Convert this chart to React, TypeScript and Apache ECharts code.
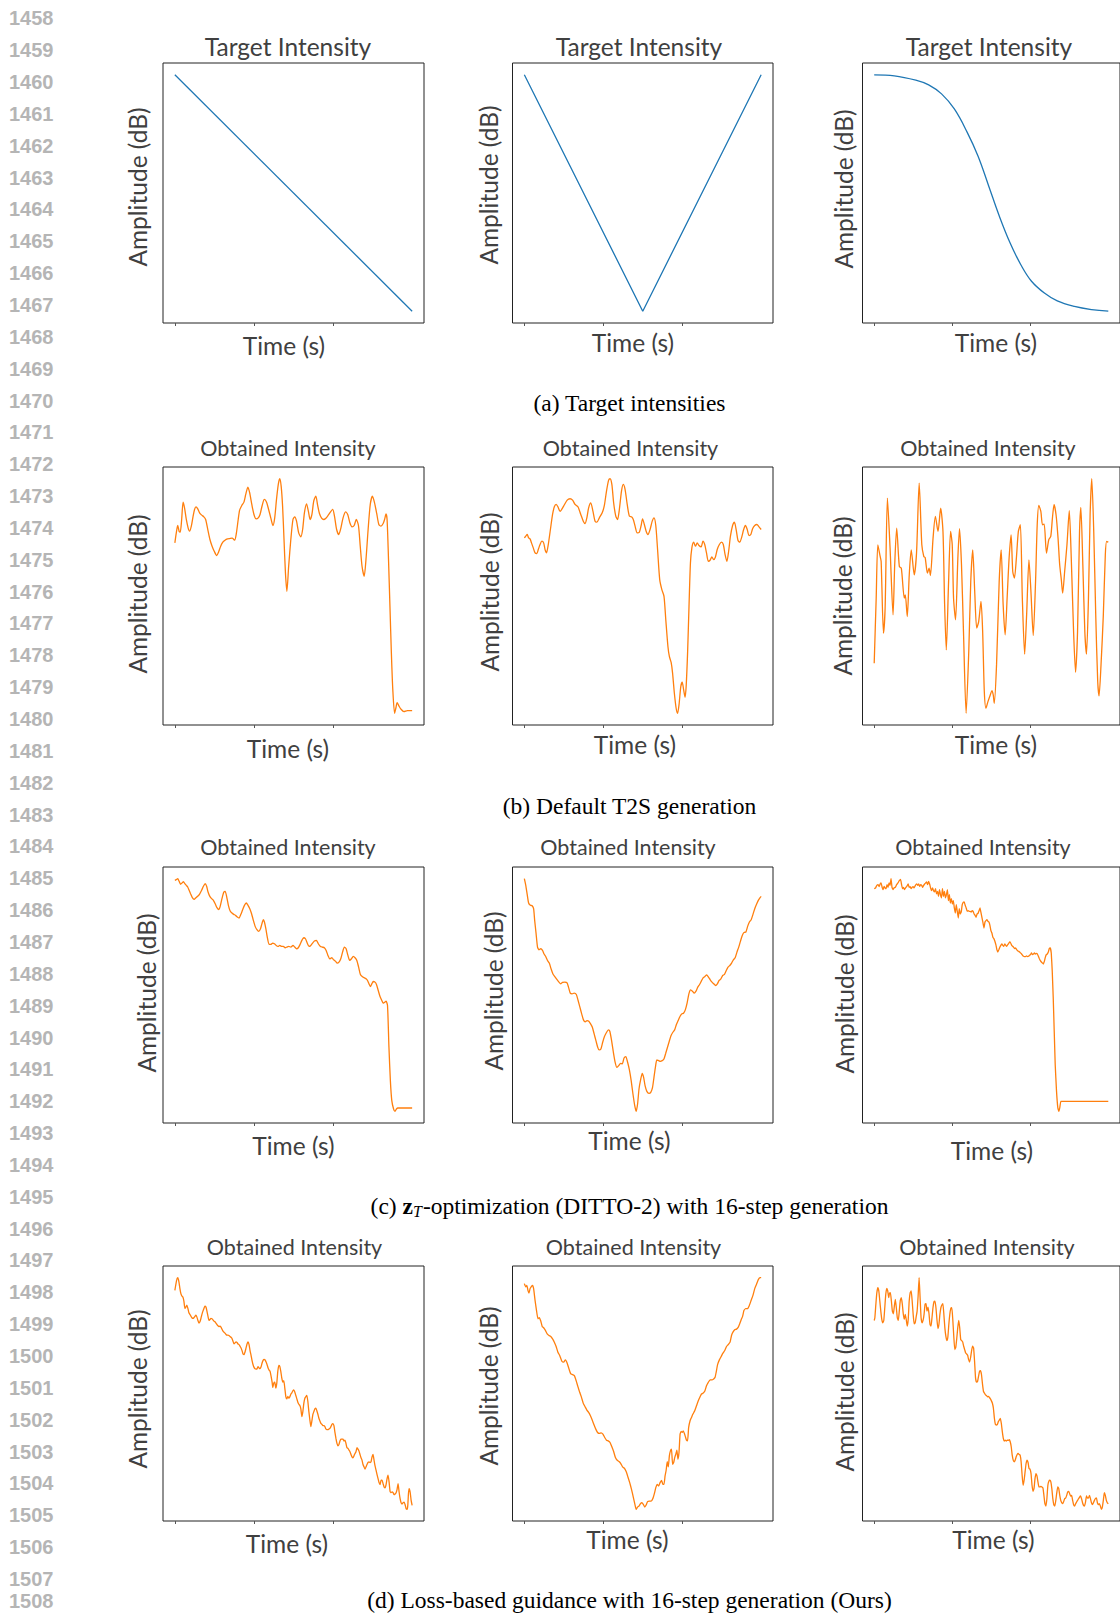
import React, { useEffect, useRef } from "react";
import * as echarts from "echarts";

// ---------- data ----------
// Target curves: [time (s), amplitude (dB)]
const targetLinear: [number, number][] = [
  [0, 0],
  [3, -60],
];
const targetVShape: [number, number][] = [
  [0, 0],
  [1.5, -60],
  [3, 0],
];
const targetSigmoid: [number, number][] = [
  [0, 0], [0.258, -0.25], [0.533, -1.36], [0.698, -2.55], [0.863, -4.84],
  [1.027, -8.67], [1.192, -14.6], [1.33, -20.6], [1.467, -28.2], [1.604, -35.9],
  [1.742, -42.7], [1.879, -48.2], [2.016, -52.4], [2.181, -55.4], [2.346, -57.4],
  [2.566, -58.8], [2.786, -59.6], [3, -60],
];

// Obtained curves: [analysis frame, amplitude (dB)]; the last frame ends the 3 s clip
const defaultLinear: [number, number][] = [
  [0,-37],[4,-34],[8,-31.8],[12,-33.6],[15,-33.8],[19,-30],[23,-24.8],[27,-26.5],[32,-30],[37,-32.5],[41,-33.5],[46,-32],[51,-29],[55,-27],[59,-26.2],[64,-26.8],[69,-28],[75,-28.7],[81,-29.2],[86,-30],[92,-33],[98,-36],[104,-38],[110,-39.5],[117,-40.8],[122,-39.8],[128,-38],[134,-36.8],[140,-36.2],[147,-35.8],[153,-35.7],[160,-35.6],[167,-36.2],[172,-34],[177,-30],[181,-27.2],[187,-25.8],[193,-24.8],[198,-22.5],[204,-20.3],[209,-22],[215,-25.5],[221,-28.5],[227,-29.8],[233,-29.5],[238,-28.5],[244,-25.8],[250,-24],[256,-24.8],[262,-27],[268,-29.5],[274,-31.8],[279,-29.5],[284,-24],[289,-19.5],[293,-17.8],[297,-20],[301,-26],[305,-36],[309,-46],[313,-51.5],[318,-44],[324,-36],[330,-30],[335,-29.2],[340,-30.5],[346,-34],[352,-35.2],[357,-33],[362,-28],[368,-25.3],[373,-27.5],[378,-30],[383,-28.5],[388,-24.5],[394,-23],[399,-25.8],[404,-28.2],[410,-29.6],[416,-30],[422,-29.6],[428,-28.8],[435,-27.7],[441,-27],[446,-29],[452,-33],[458,-34.5],[464,-32.5],[470,-29.5],[477,-27.7],[483,-28.5],[489,-31],[495,-32.2],[501,-31.8],[507,-30],[513,-31.8],[518,-38],[523,-44],[529,-47],[534,-42],[540,-33],[546,-25.5],[552,-23],[558,-25],[564,-28.2],[570,-31.5],[576,-32],[582,-31.2],[586,-30],[590,-28.3],[593,-30],[597,-42],[601,-56],[605,-70],[609,-81],[614,-88],[618,-86.2],[621,-84.8],[626,-85.8],[632,-86.8],[640,-87.5],[650,-87.2],[663,-87.2],
];
const defaultV: [number, number][] = [
  [0,-35.5],[4,-35],[8,-34.5],[12,-35.5],[16,-35.8],[20,-37],[25,-38.5],[30,-40],[35,-40.2],[39,-39],[44,-37.5],[49,-36.5],[54,-37],[58,-39],[62,-40],[67,-37.5],[73,-33],[79,-28.5],[84,-26.2],[89,-25.5],[94,-26.2],[100,-27.6],[110,-26],[120,-24.2],[128,-23.8],[135,-24.2],[142,-25.5],[150,-26.2],[158,-28.5],[165,-30.5],[170,-31.2],[175,-29.5],[180,-26.5],[186,-25],[192,-27.5],[198,-30.5],[203,-30.8],[210,-29.5],[218,-28],[224,-25.8],[230,-21.5],[236,-18.2],[240,-17.8],[245,-19.5],[250,-25],[256,-29],[261,-30],[266,-27],[272,-21.5],[277,-19.5],[282,-21],[288,-25.5],[294,-29],[300,-29.2],[305,-30],[310,-32],[316,-34],[322,-33.8],[327,-31.8],[331,-29.8],[336,-31.5],[341,-33.5],[346,-34.5],[352,-33],[358,-30.5],[363,-29.5],[368,-31.8],[373,-39],[379,-48],[385,-51],[391,-53],[396,-60],[402,-68],[406,-71],[411,-72.8],[415,-76],[420,-82],[425,-86.5],[429,-88],[433,-85.5],[438,-80],[442,-78.7],[446,-81],[450,-83.2],[453,-80],[457,-70],[461,-56],[465,-43],[469,-38.5],[474,-36.8],[479,-38],[484,-37],[489,-37.8],[495,-38.2],[500,-36.5],[505,-37.5],[510,-40],[515,-42.5],[520,-42.2],[525,-41.2],[530,-42],[535,-41.2],[540,-39],[546,-37.5],[552,-36.8],[557,-37.5],[562,-40.5],[567,-42.5],[572,-39.5],[577,-35],[583,-31.8],[588,-30.8],[593,-33],[598,-36.2],[603,-36.8],[608,-35.5],[614,-33],[619,-31.8],[624,-33],[629,-34.8],[634,-34.5],[639,-32.8],[645,-31.8],[651,-31.5],[657,-32.2],[663,-33],
];
const defaultSigmoid: [number, number][] = [
  [0,-59.5],[6,-40],[11,-24],[18,-27.5],[21,-29],[28,-50.5],[33,-43],[40,-10],[48,-25],[57,-45],[62,-30],[68,-19],[76,-30.5],[82,-31],[91,-40],[94,-39],[100,-45.5],[106,-33],[112,-25.5],[121,-33],[128,-26.5],[136,-5.5],[144,-24],[150,-27.5],[154,-27.8],[161,-32.5],[166,-31],[170,-33.2],[178,-22],[185,-15.5],[193,-20],[201,-13],[208,-20],[213,-42],[218,-55.5],[225,-35],[231,-20],[236,-24],[240,-40],[246,-46.5],[253,-28],[258,-19.2],[264,-30],[270,-50],[278,-74.5],[286,-56],[292,-35],[298,-25.5],[304,-38],[310,-49],[316,-47],[323,-41],[328,-50],[333,-68],[338,-73],[344,-71],[351,-69],[356,-67.7],[360,-69],[363,-71.5],[370,-60],[378,-35],[384,-25.5],[390,-42],[396,-51],[402,-40],[408,-28],[414,-21],[419,-32],[424,-34],[430,-28],[436,-20],[442,-18],[448,-40],[455,-56.8],[461,-45],[468,-28.5],[474,-38],[481,-51.2],[488,-35],[493,-18],[498,-12.2],[504,-14],[509,-18],[514,-17.8],[521,-26.5],[528,-22.5],[534,-21.5],[539,-16],[544,-12],[550,-15],[556,-22],[561,-30],[566,-34.5],[570,-38.5],[576,-32],[583,-24],[590,-13.8],[596,-28],[603,-50],[609,-62.2],[615,-50],[621,-20],[625,-12.8],[631,-30],[637,-50],[642,-56.8],[648,-40],[653,-15],[658,-4.2],[664,-20],[670,-45],[676,-65],[680,-69.3],[686,-60],[693,-45],[699,-27],[703,-23],[708,-23.2],
];

const dittoLinear: [number, number][] = [
  [0,-18],[4,-17.8],[8,-17.5],[12,-18.3],[16,-19.2],[20,-18.8],[24,-18.4],[28,-19],[32,-19.5],[36,-20],[40,-21],[44,-22],[49,-23.2],[54,-23.7],[59,-23.2],[64,-22.8],[69,-22.2],[75,-21],[80,-19.8],[85,-19],[89,-19.8],[93,-21.5],[98,-22.8],[103,-23.5],[108,-24],[113,-25],[118,-26.2],[123,-26.8],[127,-25.8],[132,-23.5],[137,-21.6],[141,-21.3],[145,-22.8],[150,-25.5],[155,-27.2],[160,-27.8],[165,-28.2],[170,-28.5],[175,-29],[180,-29.3],[185,-28.2],[190,-26.8],[195,-25.5],[200,-24.8],[205,-25.5],[210,-26.5],[215,-28],[220,-30],[225,-31.8],[230,-32.8],[235,-33.3],[240,-32.5],[244,-31],[248,-29.8],[251,-30.5],[255,-32.5],[259,-35],[264,-37.2],[269,-37.2],[274,-36.8],[279,-37],[284,-37.5],[289,-37.8],[294,-37.5],[299,-37.8],[304,-37.8],[309,-38.2],[314,-38],[319,-37.8],[325,-38],[331,-37.5],[336,-38],[341,-38.5],[346,-38.2],[351,-37.2],[356,-36],[361,-35.2],[366,-35.5],[371,-36.8],[376,-37.8],[381,-37.5],[386,-36.8],[391,-36.2],[397,-36],[402,-37],[408,-37.8],[413,-38],[419,-38.2],[424,-39],[429,-40.5],[434,-41.5],[440,-41.2],[445,-41.8],[450,-42.2],[455,-42.8],[460,-42.5],[465,-41.5],[470,-39.5],[475,-38],[480,-38.5],[485,-40.5],[490,-42],[495,-41.5],[500,-40.8],[505,-41.2],[510,-42],[515,-44],[520,-46.2],[525,-46.8],[531,-47.2],[536,-47.5],[540,-48],[544,-49],[548,-49.8],[552,-49],[556,-48.3],[561,-48.5],[565,-49.2],[570,-51],[575,-52.8],[580,-54],[584,-54.8],[588,-54.5],[592,-54.2],[596,-55.5],[600,-68],[604,-78],[608,-84],[613,-86.5],[617,-87.2],[621,-86.5],[625,-86.2],[633,-86.2],[648,-86.2],[665,-86.2],
];
const dittoV: [number, number][] = [
  [0,-17.5],[4,-19.5],[8,-22.2],[12,-24.8],[17,-25.5],[22,-25.6],[26,-26.5],[29,-30],[33,-34],[37,-38],[41,-38.8],[46,-38.5],[51,-39],[55,-40],[60,-40.8],[65,-42],[70,-42.8],[75,-44.5],[80,-46],[85,-46.8],[95,-48.2],[102,-49],[107,-48.6],[114,-48.5],[120,-48.7],[124,-50],[129,-51.8],[134,-52],[140,-51.8],[146,-52.2],[151,-54],[156,-56],[161,-58],[166,-59.8],[171,-60.4],[176,-60],[181,-60.2],[186,-61],[191,-62],[196,-64],[201,-66],[206,-68],[210,-68.8],[215,-68.5],[220,-66.5],[225,-64.8],[231,-63.5],[236,-62.8],[240,-63.2],[245,-66],[250,-69.5],[255,-72.5],[260,-74],[265,-73.5],[270,-72.8],[275,-73],[280,-71.2],[285,-70.8],[290,-72.5],[295,-74.8],[300,-78],[305,-82],[310,-85.5],[314,-87.2],[318,-85],[322,-80.5],[327,-77.5],[331,-75.8],[335,-77],[339,-79.5],[344,-81.2],[350,-81.8],[355,-81.5],[360,-80],[364,-77],[368,-74],[372,-71.8],[377,-72],[382,-72.2],[387,-72],[392,-71.5],[397,-69.8],[402,-68],[407,-66.2],[412,-64.5],[417,-63.5],[422,-62.8],[427,-61.2],[432,-60],[437,-58.8],[442,-58],[447,-57.8],[452,-56.8],[457,-54.8],[462,-52],[467,-50.8],[472,-51.2],[477,-51.8],[482,-51.2],[487,-50],[492,-49.2],[497,-48.2],[502,-47.2],[507,-46.8],[512,-46.3],[517,-47],[522,-47.8],[527,-48.5],[532,-49],[537,-49.5],[542,-49],[547,-48],[552,-47.5],[557,-46.5],[562,-46.2],[567,-45],[572,-44],[577,-43.5],[582,-42.8],[587,-41.8],[592,-41.2],[597,-39.5],[602,-38],[607,-36.2],[612,-34.5],[617,-33.6],[622,-33.5],[627,-31.8],[632,-30.5],[637,-29.8],[642,-28.2],[647,-26.5],[652,-25.2],[657,-24],[662,-23.2],[665,-22.8],
];
const dittoSigmoid: [number, number][] = [
  [0,-7.2],[4,-7],[8,-6.2],[12,-6],[15,-6.6],[18,-5.8],[21,-5.5],[24,-6.8],[27,-7.5],[30,-6.5],[33,-7],[36,-7.2],[39,-6],[42,-6.8],[45,-5.5],[48,-6.2],[51,-4.2],[54,-6.8],[57,-7.5],[60,-7],[64,-6.8],[68,-6],[72,-5.5],[76,-4.8],[80,-4.4],[83,-6],[86,-7.2],[89,-6.8],[92,-7.5],[95,-7],[99,-6.5],[103,-5.8],[106,-6.8],[109,-6.6],[112,-7.2],[115,-6.8],[118,-6.6],[121,-7],[125,-6.2],[129,-5.8],[132,-6.2],[135,-5.8],[138,-6.5],[141,-6],[144,-6.2],[147,-6.8],[150,-6.2],[153,-5.8],[156,-5.5],[159,-5.2],[162,-6],[165,-5],[168,-5.8],[171,-7],[174,-7.8],[177,-7],[180,-7.8],[183,-8.2],[186,-7.2],[189,-8.8],[192,-8],[195,-9.5],[198,-7.5],[201,-9],[204,-10],[207,-7.2],[210,-9.5],[213,-8],[216,-10],[219,-9],[222,-7.5],[225,-10.8],[228,-9],[231,-11.5],[234,-10.2],[237,-11.8],[240,-10.8],[243,-13],[246,-14.5],[249,-12],[252,-14],[255,-16],[258,-13.2],[261,-14.8],[264,-14.2],[267,-12],[270,-11.3],[273,-11.2],[276,-12.2],[279,-13],[282,-14],[285,-13.8],[288,-14],[291,-14],[294,-14.2],[297,-13.8],[300,-14],[303,-14.8],[306,-15.2],[309,-15.8],[312,-14.8],[315,-14.6],[318,-13.8],[321,-13],[324,-14.5],[327,-16],[330,-17.5],[333,-19],[336,-17.2],[339,-16.8],[342,-16.5],[345,-17],[348,-17.2],[351,-18.2],[354,-19.8],[357,-20.5],[360,-21.8],[363,-22.2],[366,-23],[369,-24],[372,-25.5],[375,-26.2],[378,-25.5],[381,-24.8],[384,-24.2],[387,-23.8],[390,-24.2],[393,-24.5],[396,-23.8],[399,-24.2],[402,-24.5],[405,-24],[408,-23.6],[411,-23.2],[414,-23.5],[417,-24.2],[420,-24.5],[423,-24.8],[426,-25.2],[429,-25],[432,-25.5],[435,-25.8],[438,-26],[441,-26.2],[444,-26.5],[447,-26.8],[450,-27.2],[453,-27.5],[456,-27.6],[459,-27.6],[462,-27.4],[465,-27.6],[468,-27.5],[471,-27.2],[474,-27],[477,-26.5],[480,-27],[483,-26.8],[486,-26.5],[489,-26.8],[492,-26.6],[495,-26.8],[498,-27.5],[501,-28.2],[504,-28.8],[507,-29.2],[510,-29.5],[513,-29.8],[516,-29],[519,-27.8],[522,-27],[525,-26.8],[528,-26.2],[531,-25.2],[534,-25],[537,-26.5],[540,-32],[543,-40],[546,-50],[549,-60],[553,-68],[557,-73],[560,-74],[563,-72.8],[566,-71],[573,-71],[598,-71],[658,-71],[710,-71],
];

const oursLinear: [number, number][] = [
  [0,-7.8],[3,-6],[6,-4.5],[9,-4],[12,-5.2],[15,-7.2],[18,-8.8],[21,-9.5],[24,-9.8],[27,-11],[30,-13.2],[33,-12.8],[36,-12.2],[39,-13.2],[42,-14.5],[45,-15],[48,-15.5],[51,-16],[54,-16.2],[57,-16],[60,-15.6],[63,-15.2],[66,-15.8],[69,-16.8],[72,-17.6],[75,-17.2],[78,-16.2],[81,-15],[84,-14],[87,-13.2],[90,-12.5],[93,-12.8],[96,-14],[99,-15.5],[102,-16.8],[105,-16.5],[108,-16.2],[111,-16.3],[114,-16.6],[117,-17],[120,-17.2],[123,-17.6],[126,-18],[129,-18.4],[132,-18.6],[135,-18.5],[138,-18.8],[141,-19.4],[144,-20],[147,-20.3],[150,-20.6],[153,-21],[156,-21.2],[159,-21.2],[162,-21.3],[165,-21.6],[168,-21.8],[171,-22.2],[174,-23],[177,-23.8],[180,-23.5],[183,-23.2],[186,-23.4],[189,-23.8],[192,-24],[195,-24.5],[198,-25],[201,-25.8],[204,-26.8],[207,-27],[210,-26.2],[213,-25],[216,-23.8],[219,-23.2],[222,-24],[225,-25.8],[228,-27.2],[231,-28.8],[234,-30],[237,-30.8],[240,-31.2],[243,-31.3],[246,-31.2],[249,-30.6],[252,-31],[255,-31.2],[258,-30.6],[261,-29.5],[264,-28.7],[267,-28.4],[270,-28.6],[273,-29.2],[276,-30],[279,-31],[282,-31.6],[285,-32],[288,-33.5],[291,-35.2],[293,-36.8],[296,-35.5],[299,-35.2],[302,-37],[305,-35.5],[308,-32],[311,-30.2],[314,-30.5],[317,-32],[320,-34],[323,-35.2],[326,-34.8],[329,-37],[332,-39.5],[335,-40.2],[338,-39.5],[341,-40],[344,-39.6],[347,-38.8],[350,-38.4],[353,-37.8],[356,-37.5],[359,-38.2],[362,-39.2],[365,-40.2],[368,-41.2],[371,-41.8],[374,-42.2],[377,-43.2],[380,-45.5],[383,-44],[386,-41.5],[389,-40],[392,-39.5],[395,-39.2],[398,-41],[401,-44],[404,-46.5],[407,-48.5],[410,-46.8],[413,-44.8],[416,-44],[419,-43.2],[422,-43],[425,-43.8],[428,-44.8],[431,-46],[434,-46.8],[437,-47.5],[440,-47.8],[443,-48.2],[446,-48.2],[449,-48.5],[452,-49.2],[455,-49.4],[458,-49.4],[461,-49.2],[464,-49],[467,-48.5],[470,-47.8],[473,-47.6],[476,-48.2],[479,-50.2],[482,-52],[485,-53.5],[488,-54.2],[491,-53.8],[494,-52.8],[497,-52.2],[500,-52.2],[503,-52.2],[506,-52.8],[509,-52.5],[512,-53.5],[515,-54.8],[518,-55],[521,-55.5],[524,-56],[527,-56.8],[530,-57.5],[533,-57.8],[536,-57.2],[539,-56.5],[542,-56],[545,-54.8],[548,-55.2],[551,-55.8],[554,-56.8],[557,-57.8],[560,-58.5],[563,-59.8],[566,-60.5],[569,-61.2],[572,-60.5],[575,-59.8],[578,-59.2],[581,-59],[584,-59.2],[587,-59],[590,-57.5],[593,-56.8],[596,-58.5],[599,-60.2],[602,-61.5],[605,-62.8],[608,-64],[611,-65.2],[614,-65.8],[617,-64.5],[620,-64.5],[623,-65.5],[626,-66.5],[629,-66.8],[632,-65.8],[635,-64],[638,-63],[641,-65],[644,-67.8],[647,-68.2],[650,-68],[653,-68.2],[656,-68.8],[659,-68.6],[662,-68.2],[665,-67.2],[668,-65.5],[671,-68],[674,-70],[677,-71.2],[680,-71.6],[683,-71.2],[686,-71],[689,-71.8],[692,-73],[695,-73.2],[697,-72],[699,-68.5],[701,-67],[704,-68],[707,-70.5],[710,-72],
];
const oursV: [number, number][] = [
  [0,-19],[4,-20],[7,-19.5],[10,-21],[13,-21.8],[16,-20.5],[20,-19.8],[23,-19.5],[26,-20.5],[30,-24],[34,-27],[38,-29.5],[42,-29.2],[46,-30.2],[50,-31.8],[54,-32.2],[59,-33],[64,-34],[69,-34.5],[74,-34.8],[79,-35.5],[84,-36.5],[89,-37.8],[94,-39.5],[99,-40.5],[105,-42.2],[110,-42.5],[115,-41.8],[120,-42.8],[125,-44.5],[130,-46],[135,-46.2],[140,-46.5],[145,-48],[150,-49.8],[155,-51.5],[160,-53],[165,-54.8],[170,-55.8],[175,-56.8],[180,-57.5],[185,-58.5],[190,-59.8],[195,-61.2],[200,-62.5],[205,-63.5],[210,-63.8],[215,-63.6],[220,-64],[225,-65],[230,-65.8],[235,-66],[240,-66.5],[245,-67.8],[250,-69.2],[255,-71],[260,-71.8],[265,-72.2],[270,-72.8],[275,-73.8],[280,-74.2],[285,-75.2],[290,-76.8],[295,-78.5],[300,-80.5],[305,-82.8],[310,-85.2],[313,-86.5],[317,-85.8],[321,-85.5],[325,-84.8],[329,-84.5],[333,-85],[337,-85.8],[341,-85.2],[345,-84.2],[350,-84],[355,-84],[360,-83.2],[364,-81.8],[368,-80],[372,-79],[376,-79.5],[380,-78.5],[384,-77.8],[388,-79],[391,-79],[394,-76.5],[397,-74.8],[400,-72.2],[403,-73.8],[406,-70.5],[409,-69],[412,-68.5],[415,-73],[418,-72.5],[421,-71],[424,-70],[427,-68.8],[430,-71.5],[433,-69.5],[436,-64],[439,-63.2],[442,-63.5],[445,-63],[448,-63.8],[451,-64.8],[454,-65.8],[457,-66],[460,-62],[464,-60],[468,-59],[472,-58],[477,-57],[482,-55.5],[487,-54],[492,-52.8],[496,-52],[500,-51.8],[505,-51.2],[510,-49.5],[515,-48.5],[520,-47.8],[525,-47.8],[530,-47.5],[534,-47],[537,-45.5],[541,-43.2],[546,-41.8],[551,-40.8],[556,-39.8],[561,-39],[566,-37.8],[571,-37.2],[576,-36.5],[580,-34.5],[584,-33.5],[589,-32.8],[594,-32.6],[599,-32],[603,-31],[607,-29.8],[611,-28.8],[615,-27],[620,-26.5],[625,-26.5],[630,-25.5],[635,-24],[640,-22.5],[645,-20.5],[650,-19.2],[655,-17.8],[660,-17.2],[663,-17.2],
];
const oursSigmoid: [number, number][] = [
  [0,-16.8],[2,-16],[5,-12],[8,-8.5],[11,-7],[14,-8],[17,-11],[20,-14],[23,-16.5],[26,-17.5],[29,-16.8],[32,-13],[35,-9],[38,-7.2],[41,-8],[44,-10],[46,-8.8],[49,-8.5],[52,-11],[55,-14],[58,-14.8],[61,-12.5],[64,-10.5],[67,-13],[70,-16],[73,-16.8],[76,-14],[79,-10.8],[82,-10],[85,-11.8],[88,-14.8],[91,-16.5],[94,-15],[97,-16.5],[100,-18.5],[103,-16.5],[106,-11],[109,-8.5],[112,-8],[115,-11],[118,-15],[121,-17.8],[124,-17.5],[127,-15.8],[130,-14],[133,-9.5],[136,-4],[139,-10],[142,-16],[145,-17.5],[148,-16.8],[151,-15],[154,-12],[157,-11.8],[160,-14],[163,-12.8],[166,-14.8],[169,-18],[172,-18.5],[175,-16],[178,-13],[181,-11.2],[184,-11],[187,-13],[190,-16.5],[193,-19.2],[196,-18],[199,-15],[202,-13],[205,-12.2],[208,-11.8],[211,-15],[214,-19],[217,-21.5],[220,-22.8],[223,-21.8],[226,-18],[229,-15],[232,-13.2],[235,-13],[238,-16.5],[241,-21.5],[244,-25.5],[247,-24.8],[250,-22.2],[253,-19],[256,-16.8],[259,-19],[262,-22.5],[265,-22.8],[268,-23.2],[271,-24.5],[274,-25.5],[277,-26.5],[280,-26.8],[283,-27.2],[286,-28.5],[289,-29.2],[292,-27.8],[295,-25.8],[298,-24.5],[301,-25],[304,-29],[307,-34],[310,-35.2],[313,-35],[316,-33.5],[319,-32],[322,-31.8],[325,-33],[328,-35.8],[331,-38],[334,-38.5],[337,-39],[340,-39.2],[343,-39.6],[346,-39.5],[349,-39.8],[352,-40.2],[355,-40.8],[358,-41.5],[361,-43],[364,-46],[367,-47.8],[370,-48],[373,-47.8],[376,-47],[379,-46.5],[382,-46],[385,-47.5],[388,-50],[391,-52],[394,-52.8],[397,-52.5],[400,-52.8],[403,-52.5],[406,-52.6],[409,-52.4],[412,-53],[415,-54.5],[418,-57],[421,-58.5],[424,-59],[427,-58.5],[430,-57.5],[433,-56.8],[436,-56.5],[439,-56.8],[442,-57],[445,-59],[448,-63],[451,-66],[454,-64.5],[457,-62],[460,-59.5],[463,-58.5],[466,-59.2],[469,-61],[472,-61.2],[475,-62.5],[478,-66],[481,-67.8],[484,-67],[487,-64],[490,-62.5],[493,-63.2],[496,-65],[499,-66.5],[502,-66.5],[505,-66.3],[508,-66.5],[511,-66.8],[514,-69],[517,-71.5],[520,-72.2],[523,-70],[526,-66],[529,-64.8],[532,-64.5],[535,-65],[538,-67],[541,-70],[544,-71.8],[547,-72.2],[550,-70.5],[553,-68.2],[556,-66.5],[559,-67],[562,-69],[565,-70.5],[568,-71.2],[571,-71.5],[574,-70.8],[577,-70],[580,-69.8],[583,-69],[586,-68],[589,-67.8],[592,-68.5],[595,-69.2],[598,-69],[601,-70.5],[604,-71.8],[607,-72.2],[610,-71.5],[613,-71],[616,-70.5],[619,-70],[622,-69.5],[625,-69.2],[628,-70],[631,-71.2],[634,-72],[637,-72.2],[640,-71],[643,-69.2],[646,-69.8],[649,-69.8],[652,-69],[655,-70],[658,-71.2],[661,-71.8],[664,-71.2],[667,-70.5],[670,-70],[673,-69.8],[676,-71.2],[679,-71.8],[682,-71.5],[685,-72.2],[688,-73.2],[691,-72.5],[694,-70.5],[697,-68.2],[700,-69],[703,-70.5],[706,-71.2],[709,-71.5],
];

const CLIP_SECONDS = 3;
const timeTicks = [0, 1, 2];

const captions = [
  "(a) Target intensities",
  "(b) Default T2S generation",
  "(c) {bz|z}{sub|T}-optimization (DITTO-2) with 16-step generation",
  "(d) Loss-based guidance with 16-step generation (Ours)",
];
const firstLineNo = 1458;
const lastLineNo = 1508;

// ---------- layout & style ----------
const SANS = "Lato, 'Open Sans', sans-serif";
const SERIF = "'Liberation Serif', 'DejaVu Serif', serif";
const TEXT = "#404040";
const BLUE = "#1f77b4";
const ORANGE = "#ff7f0e";

const colLeft = [163, 512.5, 862.5];
const colWidth = [261, 260.5, 260];
const rowTop = [63, 467, 867, 1266];
const rowHeight = [260, 258, 256, 255];

// centre of panel title, y-axis name, x-axis name for each panel (row-major)
const titlePos = [
  [288, 46], [639, 46], [989, 46],
  [288, 448], [630.5, 448], [988, 448],
  [288, 847], [628, 847], [983, 847],
  [294.5, 1247], [633.5, 1247], [987, 1247],
];
const yNamePos = [
  [137, 187], [488, 185], [843, 189],
  [137.5, 594], [489, 592], [842, 596],
  [146.5, 993], [493, 991], [844, 994],
  [137.5, 1389], [488.5, 1386], [844, 1392],
];
const xNamePos = [
  [284, 345], [633, 342], [996, 342],
  [288, 748], [635, 744], [996, 744],
  [293.5, 1145], [629.5, 1140], [992, 1150],
  [287, 1543], [627.5, 1539], [993.5, 1539],
];
const captionY = [403, 806, 1206, 1600];
const captionX = 629.5;
const lineNoTop = 18.3;
const lineNoStep = 31.85;
const lineNoMaxY = 1601; // keeps the last margin number inside the page

type Curve = [number, number][];

function framesToSeconds(curve: Curve): Curve {
  const total = curve[curve.length - 1][0];
  return curve.map(([f, v]) => [(f * CLIP_SECONDS) / total, v]);
}

const panels: { title: string; titleSize: number; curve: Curve; color: string; smooth: number | boolean }[] = [
  { title: "Target Intensity", titleSize: 24.5, curve: targetLinear, color: BLUE, smooth: false },
  { title: "Target Intensity", titleSize: 24.5, curve: targetVShape, color: BLUE, smooth: false },
  { title: "Target Intensity", titleSize: 24.5, curve: targetSigmoid, color: BLUE, smooth: 0.4 },
  { title: "Obtained Intensity", titleSize: 21.5, curve: framesToSeconds(defaultLinear), color: ORANGE, smooth: 0.25 },
  { title: "Obtained Intensity", titleSize: 21.5, curve: framesToSeconds(defaultV), color: ORANGE, smooth: 0.25 },
  { title: "Obtained Intensity", titleSize: 21.5, curve: framesToSeconds(defaultSigmoid), color: ORANGE, smooth: 0.25 },
  { title: "Obtained Intensity", titleSize: 21.5, curve: framesToSeconds(dittoLinear), color: ORANGE, smooth: 0.2 },
  { title: "Obtained Intensity", titleSize: 21.5, curve: framesToSeconds(dittoV), color: ORANGE, smooth: 0.2 },
  { title: "Obtained Intensity", titleSize: 21.5, curve: framesToSeconds(dittoSigmoid), color: ORANGE, smooth: 0.1 },
  { title: "Obtained Intensity", titleSize: 21.5, curve: framesToSeconds(oursLinear), color: ORANGE, smooth: 0.15 },
  { title: "Obtained Intensity", titleSize: 21.5, curve: framesToSeconds(oursV), color: ORANGE, smooth: 0.15 },
  { title: "Obtained Intensity", titleSize: 21.5, curve: framesToSeconds(oursSigmoid), color: ORANGE, smooth: 0.15 },
];

function buildOption(): echarts.EChartsOption {
  const grid: any[] = [];
  const xAxis: any[] = [];
  const yAxis: any[] = [];
  const series: any[] = [];
  const graphic: any[] = [];

  panels.forEach((p, i) => {
    const r = Math.floor(i / 3);
    const c = i % 3;
    grid.push({
      left: colLeft[c],
      top: rowTop[r],
      width: colWidth[c],
      height: rowHeight[r],
      show: true,
      borderColor: "#222",
      borderWidth: 1,
      containLabel: false,
    });
    const vals = p.curve.map((d) => d[1]);
    const lo = Math.min(...vals);
    const hi = Math.max(...vals);
    const pad = (hi - lo) * 0.05;
    xAxis.push({
      gridIndex: i,
      type: "value",
      position: "bottom",
      min: -0.05 * CLIP_SECONDS,
      max: 1.05 * CLIP_SECONDS,
      axisLine: { show: false, onZero: false },
      axisTick: { show: true, customValues: timeTicks, length: 3, lineStyle: { color: "#555", width: 1 } },
      axisLabel: { show: false },
      splitLine: { show: false },
    });
    yAxis.push({
      gridIndex: i,
      type: "value",
      position: "left",
      min: lo - pad,
      max: hi + pad,
      axisLine: { show: false, onZero: false },
      axisTick: { show: false },
      axisLabel: { show: false },
      splitLine: { show: false },
    });
    series.push({
      type: "line",
      xAxisIndex: i,
      yAxisIndex: i,
      data: p.curve,
      showSymbol: false,
      smooth: p.smooth,
      lineStyle: { color: p.color, width: 1.3 },
      silent: true,
    });

    graphic.push({
      type: "text",
      x: titlePos[i][0],
      y: titlePos[i][1],
      style: { text: p.title, font: `${p.titleSize}px ${SANS}`, fill: TEXT, textAlign: "center", textVerticalAlign: "middle" },
    });
    graphic.push({
      type: "text",
      x: yNamePos[i][0],
      y: yNamePos[i][1],
      rotation: Math.PI / 2,
      style: { text: "Amplitude (dB)", font: `24.5px ${SANS}`, fill: TEXT, textAlign: "center", textVerticalAlign: "middle" },
    });
    graphic.push({
      type: "text",
      x: xNamePos[i][0],
      y: xNamePos[i][1],
      style: { text: "Time (s)", font: `24.5px ${SANS}`, fill: TEXT, textAlign: "center", textVerticalAlign: "middle" },
    });
  });

  captions.forEach((cap, k) => {
    graphic.push({
      type: "text",
      x: captionX,
      y: captionY[k],
      style: {
        text: cap,
        font: `23.5px ${SERIF}`,
        fill: "#000",
        textAlign: "center",
        textVerticalAlign: "middle",
        rich: {
          bz: { fontFamily: SERIF, fontSize: 23.5, fontWeight: "bold", fill: "#000" },
          sub: { fontFamily: SERIF, fontSize: 16, fontStyle: "italic", fill: "#000", padding: [10, 1, 0, 0] },
        },
      },
    });
  });

  for (let n = firstLineNo; n <= lastLineNo; n++) {
    graphic.push({
      type: "text",
      x: 9,
      y: Math.min(lineNoTop + (n - firstLineNo) * lineNoStep, lineNoMaxY),
      style: {
        text: String(n),
        font: `bold 20px 'Liberation Sans', Arial, sans-serif`,
        fill: "#b5b5b5",
        textAlign: "left",
        textVerticalAlign: "middle",
      },
    });
  }

  return {
    animation: false,
    backgroundColor: "#ffffff",
    grid,
    xAxis,
    yAxis,
    series,
    graphic,
  };
}

export default function App() {
  const ref = useRef<HTMLDivElement>(null);
  useEffect(() => {
    if (!ref.current) return;
    const chart = echarts.init(ref.current, null, { renderer: "svg", width: 1120, height: 1613 });
    chart.setOption(buildOption());
    return () => chart.dispose();
  }, []);
  return (
    <div
      ref={ref}
      style={{ position: "absolute", left: 0, top: 0, width: 1120, height: 1613, background: "#fff" }}
    />
  );
}
